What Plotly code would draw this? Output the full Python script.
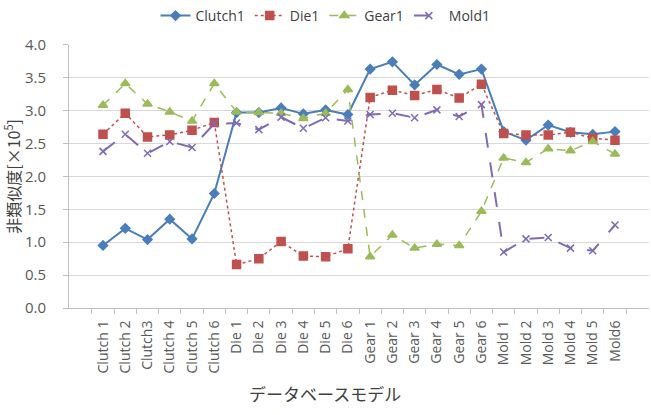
import plotly.graph_objects as go

categories = ["Clutch 1", "Clutch 2", "Clutch3", "Clutch 4", "Clutch 5", "Clutch 6",
              "Die 1", "Die 2", "Die 3", "Die 4", "Die 5", "Die 6",
              "Gear 1", "Gear 2", "Gear 3", "Gear 4", "Gear 5", "Gear 6",
              "Mold 1", "Mold 2", "Mold 3", "Mold 4", "Mold 5", "Mold6"]

clutch1 = [0.95, 1.21, 1.04, 1.35, 1.05, 1.74, 2.97, 2.97, 3.04, 2.95, 3.01, 2.94,
           3.63, 3.74, 3.39, 3.70, 3.55, 3.63, 2.68, 2.55, 2.78, 2.67, 2.64, 2.68]
die1 = [2.64, 2.96, 2.60, 2.63, 2.70, 2.82, 0.66, 0.75, 1.01, 0.79, 0.78, 0.90,
        3.20, 3.31, 3.23, 3.32, 3.19, 3.40, 2.65, 2.63, 2.63, 2.67, 2.58, 2.55]
gear1 = [3.08, 3.41, 3.10, 2.98, 2.84, 3.41, 2.98, 2.97, 2.96, 2.88, 2.96, 3.32,
         0.78, 1.11, 0.91, 0.97, 0.95, 1.47, 2.28, 2.21, 2.42, 2.39, 2.53, 2.34]
mold1 = [2.38, 2.64, 2.35, 2.53, 2.44, 2.80, 2.81, 2.71, 2.90, 2.73, 2.89, 2.84,
         2.94, 2.96, 2.89, 3.01, 2.91, 3.09, 0.85, 1.05, 1.07, 0.91, 0.87, 1.26]

series = [
    ("Clutch1", clutch1, "#4A7EBB", "solid", "diamond", 7, 2.0),
    ("Die1", die1, "#C0504D", "dot", "square", 8, 1.5),
    ("Gear1", gear1, "#9BBB59", "dash", "triangle-up", 8, 1.5),
    ("Mold1", mold1, "#7F6BB5", "longdash", "x-thin", 7, 2.0),
]

fig = go.Figure()
for name, vals, color, dash, sym, size, lw in series:
    fig.add_trace(go.Scatter(
        x=categories, y=vals, name=name, mode="lines+markers",
        line=dict(color=color, dash=dash, width=lw),
        marker=dict(symbol=sym, size=size, color=color,
                    line=dict(color=color, width=1.5)),
    ))

font_main = "Open Sans, Noto Sans CJK JP, sans-serif"
fig.update_layout(
    width=651, height=415,
    margin=dict(l=69, r=2, t=42, b=107),
    plot_bgcolor="white", paper_bgcolor="white",
    font=dict(family=font_main, color="#595959", size=13),
    legend=dict(orientation="h", xref="container", yref="container",
                x=0.5, xanchor="center", y=1.0, yanchor="top",
                font=dict(size=14, color="#404040"), traceorder="normal"),
    xaxis=dict(type="category", tickangle=-90, tickson="boundaries",
               ticks="outside", ticklen=5, tickcolor="#bfbfbf",
               ticklabelstandoff=6,
               showline=True, linecolor="#bfbfbf", showgrid=False,
               tickfont=dict(size=14, color="#595959")),
    yaxis=dict(range=[0, 4.0], dtick=0.5, tickformat=".1f",
               ticks="outside", ticklen=5, tickcolor="#bfbfbf",
               ticklabelstandoff=14,
               showline=True, linecolor="#bfbfbf",
               gridcolor="#d9d9d9", gridwidth=1,
               tickfont=dict(size=15, color="#595959"),
               title=dict(text="非類似度[×10<sup>5</sup>]", standoff=4,
                          font=dict(size=16, color="#404040",
                                    family="Noto Sans CJK JP, sans-serif"))),
    annotations=[dict(text="データベースモデル", xref="paper", yref="paper",
                      x=0.441, y=-0.27, showarrow=False, xanchor="center",
                      yanchor="top",
                      font=dict(size=17, color="#404040",
                                family="Noto Sans CJK JP, sans-serif"))],
)

fig.write_html("out.html")
